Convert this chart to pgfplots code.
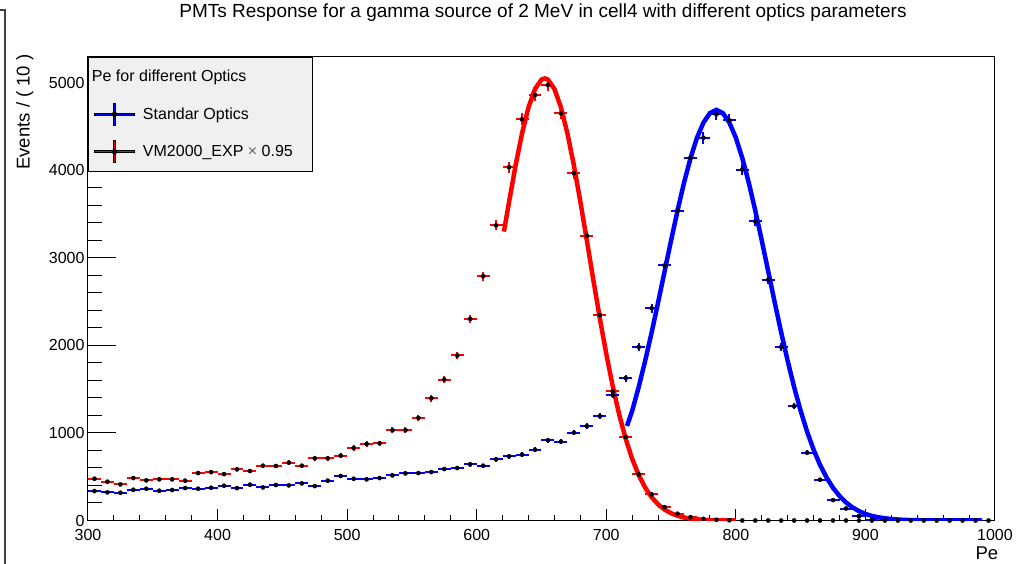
\documentclass[border=0pt]{standalone}
\usepackage{pgfplots}
\usepackage{pgfplotstable}
\pgfplotsset{compat=1.18}
\usepackage{fontspec}
\setmainfont{Liberation Sans}

\pgfdeclareplotmark{hbin}{\pgfpathrectangle{\pgfqpoint{-6.478pt}{-1pt}}{\pgfqpoint{12.957pt}{2pt}}\pgfusepathqfill}

\pgfplotstableread{
x y
305 336
315 321
325 317
335 351
345 363
355 340
365 348
375 370
385 363
395 374
405 397
415 370
425 409
435 378
445 405
455 401
465 424
475 393
485 455
495 508
505 477
515 470
525 485
535 515
545 538
555 542
565 553
575 588
585 599
595 641
605 626
615 699
625 733
635 752
645 809
655 916
665 901
675 1004
685 1077
695 1191
705 1432
715 1627
725 1982
735 2425
745 2913
755 3540
765 4143
775 4372
785 4639
795 4570
805 4009
815 3417
825 2749
835 1982
845 1306
855 775
865 466
875 233
885 137
895 50
905 10
}\bluedata

\pgfplotstableread{
x y
305 477
315 443
325 412
335 485
345 458
355 470
365 470
375 455
385 542
395 553
405 530
415 584
425 565
435 626
445 622
455 661
465 626
475 710
485 710
495 741
505 828
515 874
525 882
535 1031
545 1031
555 1172
565 1396
575 1610
585 1885
595 2302
605 2790
615 3371
625 4036
635 4582
645 4860
655 4975
665 4651
675 3967
685 3253
695 2348
705 1475
715 954
725 527
735 298
745 153
755 77
765 38
775 18
785 8
795 3
}\reddata

\pgfplotstableread{
x y
805 0
815 0
825 0
835 0
845 0
855 0
865 0
875 0
885 0
895 0
905 0
915 0
925 0
935 0
945 0
955 0
965 0
975 0
985 0
995 0
}\zerodata

\pgfplotstableread{
x y
621 3300
625 3641
630 4057
635 4423
640 4720
645 4929
650 5036
652.5 5050
655 5036
660 4929
665 4720
670 4423
675 4057
680 3641
685 3198
690 2749
695 2312
700 1903
705 1533
710 1208
715 932
720 704
725 520
730 376
735 266
740 184
745 125
750 83
755 54
760 34
765 21
770 13
780 4
790 1
800 0
}\redfit

\pgfplotstableread{
x y
716 1080
720 1253
725 1523
730 1823
735 2147
740 2491
745 2845
750 3198
755 3540
760 3858
765 4139
770 4372
775 4545
780 4653
785 4690
790 4653
795 4545
800 4372
805 4139
810 3858
815 3540
820 3198
825 2845
830 2491
835 2147
840 1823
845 1523
850 1253
855 1014
860 809
865 635
870 491
875 373
880 280
885 206
890 150
895 107
900 75
905 52
910 36
920 16
930 7
940 3
960 1
990 0
}\bluefit

\definecolor{legfill}{RGB}{240,240,240}

\begin{document}
\begin{tikzpicture}
\begin{axis}[
  at={(0pt,0pt)}, anchor=south west,
  scale only axis,
  width=907pt, height=464pt,
  xmin=300, xmax=1000,
  ymin=0, ymax=5300,
  xtick={300,400,...,1000},
  ytick={0,1000,...,5000},
  minor x tick num=4,
  minor y tick num=4,
  xtick pos=bottom, ytick pos=left,
  tick align=inside,
  xtick style={/pgfplots/major tick length=12pt, /pgfplots/minor tick length=6pt, line width=1pt, black},
  ytick style={/pgfplots/major tick length=28pt, /pgfplots/minor tick length=14pt, line width=1pt, black},
  axis line style={line width=1pt, black},
  scaled x ticks=false, scaled y ticks=false,
  /pgf/number format/assume math mode=true,
  /pgf/number format/1000 sep={},
  tick label style={font=\fontsize{16}{19}\selectfont},
  xticklabel style={yshift=-5pt},
  title={PMTs Response for a gamma source of 2 MeV in cell4 with different optics parameters},
  title style={at={(axis description cs:0.5017,1.081)}, anchor=center, font=\fontsize{19}{22}\selectfont},
  xlabel={Pe},
  every axis x label/.style={at={(axis description cs:0.991,-0.070)}, anchor=center, font=\fontsize{18.5}{22}\selectfont},
  ylabel={Events / ( 10 )},
  every axis y label/.style={at={(axis description cs:-0.0695,1.012)}, rotate=90, anchor=east, font=\fontsize{18.5}{22}\selectfont},
  legend style={at={(axis description cs:0,1)}, anchor=north west,
    draw=black, line width=1pt, fill=legfill,
    font=\fontsize{16}{19}\selectfont,
    inner xsep=5.5pt, inner ysep=1pt, row sep=0pt,
    nodes={minimum height=37.5pt, inner sep=0pt},
    /tikz/every odd column/.append style={column sep=8pt}},
  legend cell align=left,
]
% fits
\addplot[red, line width=4.5pt, forget plot] table[x=x,y=y] {\redfit};
\addplot[blue, line width=4.5pt, forget plot] table[x=x,y=y] {\bluefit};

% horizontal (bin width) bars, drawn as filled bars one bin wide
\addplot[only marks, mark=hbin, mark options={draw=none, fill=blue}, forget plot]
  table[x=x, y=y] {\bluedata};
\addplot[only marks, mark=hbin, mark options={draw=none, fill=red}, forget plot]
  table[x=x, y=y] {\reddata};
% vertical error bars and points
\addplot[blue, only marks, mark=*, mark size=2.1pt, mark options={draw=black, fill=black}, forget plot,
  error bars/.cd, y dir=both, y explicit,
  error bar style={draw=blue, line width=2pt}, error mark=none]
  table[x=x, y=y, y error expr=sqrt(\thisrow{y})] {\bluedata};
\addplot[red, only marks, mark=*, mark size=2.1pt, mark options={draw=black, fill=black}, forget plot,
  error bars/.cd, y dir=both, y explicit,
  error bar style={draw=red, line width=2pt}, error mark=none]
  table[x=x, y=y, y error expr=sqrt(\thisrow{y})] {\reddata};
\addplot[only marks, mark=*, mark size=2.1pt, mark options={draw=black, fill=black}, forget plot]
  table[x=x, y=y] {\zerodata};

% legend
\addlegendimage{empty legend}
\addlegendentry{\hspace*{-51pt}Pe for different Optics}
\addlegendimage{legend image code/.code={
  \fill[fill=blue] (0pt,-1.2pt) rectangle (40pt,1.2pt);
  \fill[fill=blue] (18.8pt,-11pt) rectangle (21.2pt,11pt);
  \fill[fill=black] (20pt,0pt) circle (2.1pt);}}
\addlegendentry{\makebox[164pt][l]{Standar Optics}}
\addlegendimage{legend image code/.code={
  \fill[fill=red] (0pt,-1.2pt) rectangle (40pt,1.2pt);
  \fill[fill=red] (18.8pt,-11pt) rectangle (21.2pt,11pt);
  \fill[fill=black] (20pt,0pt) circle (2.1pt);}}
\addlegendentry{\makebox[164pt][l]{VM2000\_EXP {\color{black!60}×} 0.95}}
\end{axis}
\draw[line width=1.5pt, black!75] (-88pt,510.5pt) -- (-83pt,510.5pt) -- (-83pt,-43pt);
\pgfresetboundingbox
\path[use as bounding box] (-88pt,-42.5pt) rectangle (933pt,520.5pt);
\end{tikzpicture}
\end{document}
